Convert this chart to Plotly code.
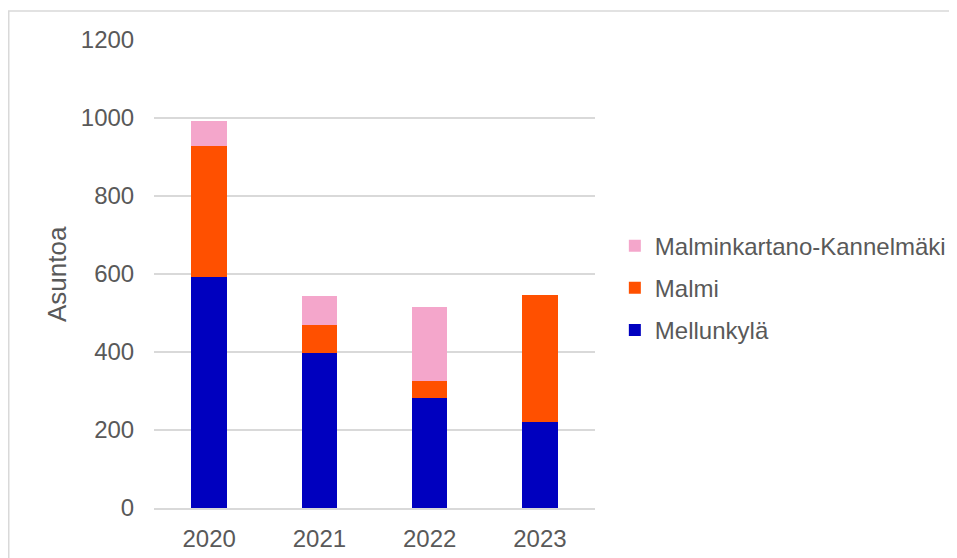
import plotly.graph_objects as go

years = ["2020", "2021", "2022", "2023"]
mellunkyla = [593, 397, 281, 221]
malmi = [334, 71, 45, 325]
kannelmaki = [66, 76, 189, 0]

series_names = ["Mellunkylä", "Malmi", "Malminkartano-Kannelmäki"]
series_colors = ["#0000BF", "#FF5000", "#F4A6CB"]
legend_ranks = [3, 2, 1]

FONT = "Liberation Sans, Arial, sans-serif"
GREY = "#595959"

fig = go.Figure()
for name, vals, col, rank in zip(series_names, [mellunkyla, malmi, kannelmaki], series_colors, legend_ranks):
    fig.add_trace(
        go.Bar(
            x=years
            , y=vals
            , name=name
            , marker_color=col
            , marker_line_width=0
            , legendgroup=name
            , legendrank=rank
        )
    )

# page body has an 8px margin, so the margins are shifted by it
fig.update_layout(
    barmode="stack"
    , bargap=0.68
    , width=957
    , height=558
    , margin={"l": 146, "r": 370, "t": 32, "b": 58}
    , paper_bgcolor="white"
    , plot_bgcolor="white"
    , font={"family": FONT, "size": 24, "color": GREY}
    , showlegend=True
    , legend={
        "x": 1.045
        , "y": 0.47
        , "xanchor": "left"
        , "yanchor": "middle"
        , "traceorder": "grouped"
        , "tracegroupgap": 8
        , "font": {"size": 24, "color": GREY}
        , "itemwidth": 30
    }
    , xaxis={
        "showgrid": False
        , "showline": True
        , "linecolor": "#D9D9D9"
        , "linewidth": 1.5
        , "ticks": "outside"
        , "ticklen": 8
        , "tickcolor": "rgba(0,0,0,0)"
        , "tickfont": {"size": 24, "color": GREY}
    }
    , yaxis={
        "range": [0, 1200]
        , "dtick": 200
        , "showgrid": True
        , "gridcolor": "#D9D9D9"
        , "gridwidth": 1.5
        , "zeroline": False
        , "showline": False
        , "ticks": "outside"
        , "ticklen": 14
        , "tickcolor": "rgba(0,0,0,0)"
        , "tickfont": {"size": 24, "color": GREY}
    }
    , annotations=[
        {
            "text": "Asuntoa"
            , "x": -0.22
            , "y": 0.5
            , "xref": "paper"
            , "yref": "paper"
            , "xanchor": "center"
            , "yanchor": "middle"
            , "textangle": -90
            , "showarrow": False
            , "font": {"size": 26, "color": GREY}
        }
    ]
    , shapes=[
        {
            "type": "rect"
            , "xref": "paper"
            , "yref": "paper"
            , "x0": -0.3294
            , "x1": 1.85
            , "y0": -0.12
            , "y1": 1.062
            , "line": {"color": "#D9D9D9", "width": 1.5}
            , "layer": "below"
        }
    ]
)

fig.write_html("out.html")
